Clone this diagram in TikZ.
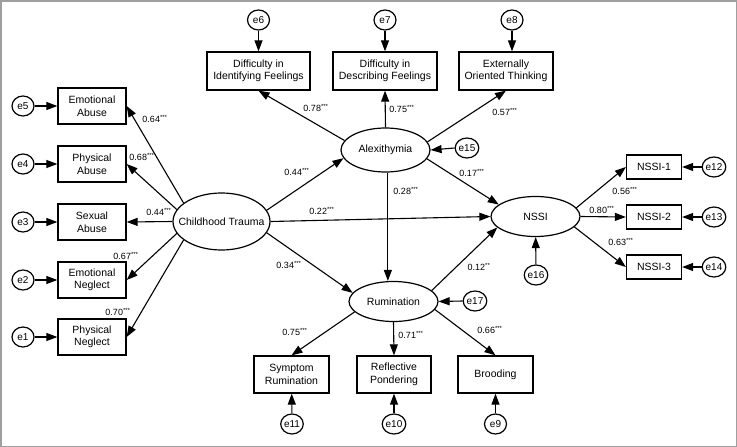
\documentclass[tikz,border=0pt]{standalone}
\usepackage{fontspec}
\setmainfont{Liberation Sans}
\usetikzlibrary{shapes.geometric,arrows.meta}
\begin{document}
\begin{tikzpicture}[x=1pt,y=-1pt,
  box/.style={draw,line width=1.3pt,rectangle,inner sep=0pt,align=center,font=\fontsize{10.5}{12.5}\selectfont},
  lat/.style={draw,line width=1.2pt,ellipse,inner sep=0pt,font=\fontsize{10.5}{12.5}\selectfont},
  err/.style={draw,line width=1.2pt,ellipse,inner sep=0pt,minimum width=22pt,minimum height=20pt,font=\fontsize{10}{12}\selectfont},
  arr/.style={line width=1.1pt,-{Triangle[length=11pt,width=8pt]}},
  coef/.style={inner sep=0pt,font=\fontsize{9}{10}\selectfont},
]
\useasboundingbox (0,0) rectangle (737,447);
\draw[gray!75,line width=1.5pt] (0.75,0.75) rectangle (736.25,446.25);

% latent variables
\node[lat,minimum width=97pt,minimum height=57pt] (CT) at (221.5,221.5) {\makebox[0pt]{Childhood Trauma}};
\node[lat,minimum width=89pt,minimum height=44pt] (Alex) at (385.5,150) {\makebox[0pt]{Alexithymia}};
\node[lat,minimum width=89pt,minimum height=40pt] (Rum) at (393.5,301.5) {\makebox[0pt]{Rumination}};
\node[lat,minimum width=89pt,minimum height=40pt] (NSSI) at (535.5,216.5) {\makebox[0pt]{NSSI}};

% observed boxes
\node[box,minimum width=103pt,minimum height=38pt] (DIF) at (258.5,71) {Difficulty in\\Identifying Feelings};
\node[box,minimum width=104pt,minimum height=38pt] (DDF) at (385,71) {Difficulty in\\Describing Feelings};
\node[box,minimum width=94pt,minimum height=38pt] (EOT) at (506,71) {Externally\\Oriented Thinking};

\node[box,minimum width=68pt,minimum height=36pt] (EA) at (92,106) {Emotional\\Abuse};
\node[box,minimum width=68pt,minimum height=36pt] (PA) at (92,164) {Physical\\Abuse};
\node[box,minimum width=68pt,minimum height=36pt] (SA) at (92,222) {Sexual\\Abuse};
\node[box,minimum width=68pt,minimum height=36pt] (EN) at (92,280) {Emotional\\Neglect};
\node[box,minimum width=68pt,minimum height=36pt] (PN) at (92,337) {Physical\\Neglect};

\node[box,minimum width=55pt,minimum height=24pt] (N1) at (654,167) {NSSI-1};
\node[box,minimum width=55pt,minimum height=24pt] (N2) at (654,217) {NSSI-2};
\node[box,minimum width=55pt,minimum height=24pt] (N3) at (654,267) {NSSI-3};

\node[box,minimum width=75pt,minimum height=37pt] (SR) at (291.5,374.5) {Symptom\\Rumination};
\node[box,minimum width=74pt,minimum height=37pt] (RP) at (394,374.5) {Reflective\\Pondering};
\node[box,minimum width=75pt,minimum height=37pt] (BR) at (495.5,374.5) {Brooding};

% error terms
\node[err] (e6) at (258.5,20) {e6};
\node[err] (e7) at (385,20) {e7};
\node[err] (e8) at (512,20) {e8};
\node[err] (e5) at (23,106) {e5};
\node[err] (e4) at (23,164) {e4};
\node[err] (e3) at (23,222) {e3};
\node[err] (e2) at (23,280) {e2};
\node[err] (e1) at (23,337) {e1};
\node[err] (e15) at (467,148) {e15};
\node[err] (e12) at (714,167) {e12};
\node[err] (e13) at (714,217) {e13};
\node[err] (e14) at (714,267) {e14};
\node[err] (e16) at (536,275) {e16};
\node[err] (e17) at (475,301) {e17};
\node[err] (e11) at (292,424) {e11};
\node[err] (e10) at (394,424) {e10};
\node[err] (e9) at (495.5,424) {e9};

% error arrows
\draw[arr] (e6) -- (DIF);
\draw[arr] (e7) -- (DDF);
\draw[arr] (e8.south) -- (e8.south |- EOT.north);
\draw[arr] (e5) -- (EA);
\draw[arr] (e4) -- (PA);
\draw[arr] (e3) -- (SA);
\draw[arr] (e2) -- (EN);
\draw[arr] (e1) -- (PN);
\draw[arr] (e15.west) -- (Alex.east);
\draw[arr] (e12) -- (N1);
\draw[arr] (e13) -- (N2);
\draw[arr] (e14) -- (N3);
\draw[arr] (e16) -- (NSSI);
\draw[arr] (e17.west) -- (Rum.east);
\draw[arr] (e11) -- (SR);
\draw[arr] (e10) -- (RP);
\draw[arr] (e9) -- (BR);

% structural paths
\draw[arr] (CT.154) -- (EA.east);
\draw[arr] (CT.165) -- (PA.east);
\draw[arr] (CT.west) -- (SA.east);
\draw[arr] (CT.195) -- (EN.east);
\draw[arr] (CT.206) -- (PN.east);
\draw[arr] (CT.14) -- (Alex.191);
\draw[arr] (CT.east) -- (NSSI.west);
\draw[arr] (CT.-14) -- (Rum.168);
\draw[arr] (Alex.167) -- (DIF.south);
\draw[arr] (Alex.north) -- (DDF.south);
\draw[arr] (Alex.11) -- (EOT.south);
\draw[arr] (Alex.-12) -- (NSSI.162);
\draw[arr] (Alex.-84) -- (Alex.-84 |- Rum.north);
\draw[arr] (Rum.16) -- (NSSI.196);
\draw[arr] (Rum.195) -- (SR.north);
\draw[arr] (Rum.south) -- (RP.north);
\draw[arr] (Rum.-11) -- (BR.north);
\draw[arr] (NSSI.12) -- (N1.west);
\draw[arr] (NSSI.east) -- (N2.west);
\draw[arr] (NSSI.-15) -- (N3.west);

% coefficients
\node[coef] (c1) at (155,119) {0.64\textsuperscript{***}};
\node[coef] (c2) at (142,157) {0.68\textsuperscript{***}};
\node[coef] (c3) at (159,212) {0.44\textsuperscript{***}};
\node[coef] (c4) at (126,256) {0.67\textsuperscript{***}};
\node[coef] (c5) at (118,312) {0.70\textsuperscript{***}};
\node[coef] (c6) at (316,108) {0.78\textsuperscript{***}};
\node[coef] (c7) at (297,172) {0.44\textsuperscript{***}};
\node[coef] (c8) at (322,211) {0.22\textsuperscript{***}};
\node[coef] (c9) at (289,265) {0.34\textsuperscript{***}};
\node[coef] (c10) at (402,109) {0.75\textsuperscript{***}};
\node[coef] (c11) at (505,112) {0.57\textsuperscript{***}};
\node[coef] (c12) at (406,191) {0.28\textsuperscript{***}};
\node[coef] (c13) at (472,173) {0.17\textsuperscript{***}};
\node[coef] (c14) at (625,191) {0.56\textsuperscript{***}};
\node[coef] (c15) at (602,210) {0.80\textsuperscript{***}};
\node[coef] (c16) at (621,242) {0.63\textsuperscript{***}};
\node[coef] (c17) at (479,267) {0.12\textsuperscript{**}};
\node[coef] (c18) at (295,332) {0.75\textsuperscript{***}};
\node[coef] (c19) at (411,335) {0.71\textsuperscript{***}};
\node[coef] (c20) at (490,330) {0.66\textsuperscript{***}};
\end{tikzpicture}
\end{document}
